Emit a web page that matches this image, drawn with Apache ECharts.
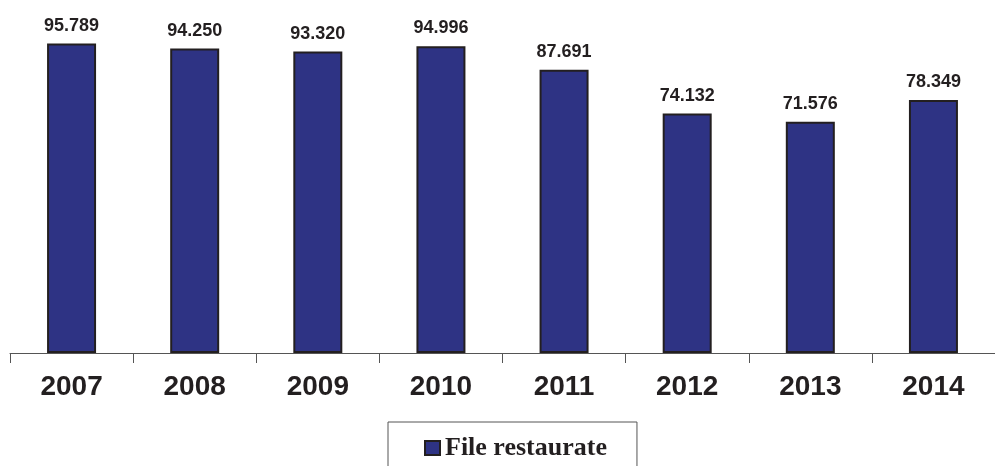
<!DOCTYPE html>
<html>
<head>
<meta charset="utf-8">
<script src="https://cdn.jsdelivr.net/npm/echarts@6/dist/echarts.min.js"></script>
<style>
  html, body { margin: 0; padding: 0; background: #fff; }
  #chart { width: 995px; height: 466px; }
</style>
</head>
<body>
<div id="chart"></div>
<script>
const years = ['2007', '2008', '2009', '2010', '2011', '2012', '2013', '2014'];
const restoredFiles = [95.789, 94.250, 93.320, 94.996, 87.691, 74.132, 71.576, 78.349];
const seriesName = 'File restaurate';

const chart = echarts.init(document.getElementById('chart'), null, { renderer: 'canvas' });

const option = {
  animation: false,
  grid: { left: 10, right: 0, top: 30, bottom: 113 },
  legend: {
    data: [seriesName],
    left: 388,
    top: 422,
    padding: [13, 30, 20, 36],
    borderColor: '#555',
    borderWidth: 1,
    itemWidth: 15,
    itemHeight: 14,
    itemGap: 4,
    icon: 'rect',
    textStyle: {
      fontFamily: 'Liberation Serif',
      fontWeight: 'bold',
      fontSize: 26,
      color: '#231f20'
    }
  },
  xAxis: {
    type: 'category',
    data: years,
    axisLine: { lineStyle: { color: '#555', width: 1 } },
    axisTick: { show: true, alignWithLabel: false, inside: false, length: 10, lineStyle: { color: '#555', width: 1 } },
    axisLabel: {
      margin: 20,
      fontFamily: 'Liberation Sans',
      fontWeight: 'bold',
      fontSize: 28,
      color: '#231f20'
    }
  },
  yAxis: {
    type: 'value',
    min: 0,
    max: 100,
    show: false
  },
  series: [{
    name: seriesName,
    type: 'bar',
    data: restoredFiles,
    barWidth: 49,
    itemStyle: { color: '#2e3384', borderColor: '#231f20', borderWidth: 2 },
    label: {
      show: true,
      position: 'top',
      distance: 9,
      formatter: p => p.value.toFixed(3),
      fontFamily: 'Liberation Sans',
      fontWeight: 'bold',
      fontSize: 18,
      color: '#231f20'
    }
  }]
};

chart.setOption(option);
</script>
</body>
</html>
